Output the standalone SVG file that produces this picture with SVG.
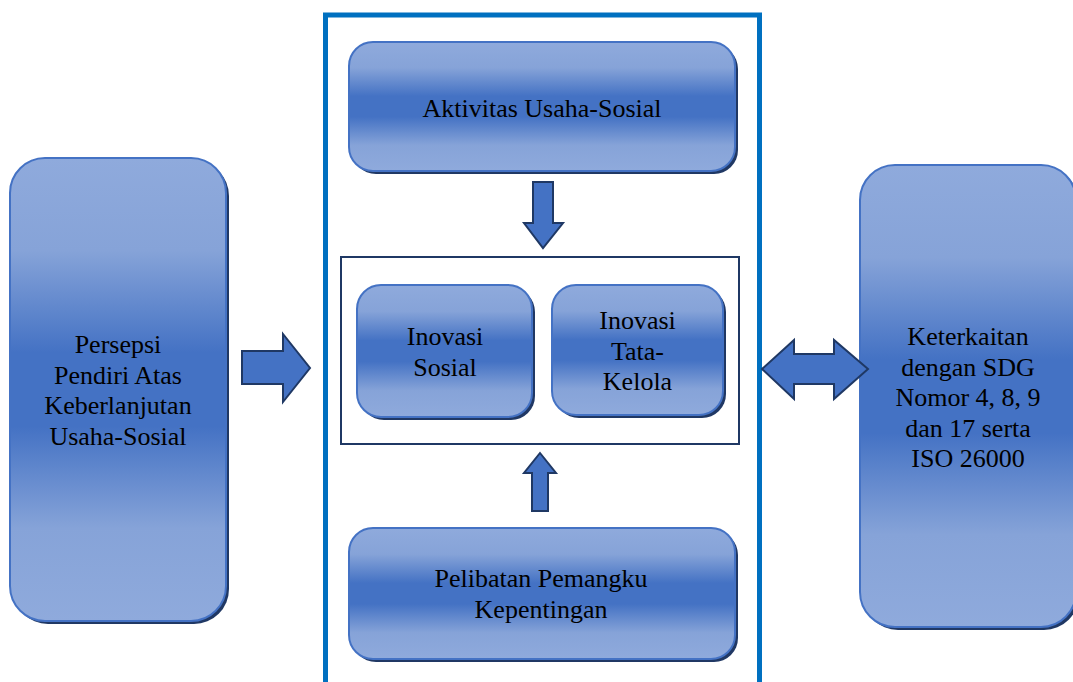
<svg xmlns="http://www.w3.org/2000/svg" width="1073" height="682" viewBox="0 0 1073 682">
<defs>
<linearGradient id="g" x1="0" y1="0" x2="0" y2="1">
<stop offset="0" stop-color="#8FAADC"/>
<stop offset="0.2" stop-color="#86A3D8"/>
<stop offset="0.42" stop-color="#4472C4"/>
<stop offset="0.58" stop-color="#4472C4"/>
<stop offset="0.8" stop-color="#86A3D8"/>
<stop offset="1" stop-color="#8FAADC"/>
</linearGradient>
<style>
.box{fill:url(#g);stroke:#4472C4;stroke-width:2}
.sh{fill:#203864}
.t{font-family:"Liberation Serif","Times New Roman",serif;font-size:26px;fill:#000;text-anchor:middle}
.arr{fill:#4472C4;stroke:#1F3864;stroke-width:2;stroke-linejoin:miter}
</style>
</defs>
<rect width="1073" height="682" fill="#fff"/>
<g id="frame">
<rect x="325.5" y="15" width="434" height="700" fill="none" stroke="#0070C0" stroke-width="5"/>
<rect x="341" y="257" width="398" height="187" fill="none" stroke="#1F3864" stroke-width="2"/>
</g>
<g id="node-persepsi">
<rect class="sh" x="13" y="161" width="216" height="463" rx="35"/>
<rect class="box" x="10" y="158" width="216" height="463" rx="35"/>
<text class="t" x="118" y="353">Persepsi</text>
<text class="t" x="118" y="383.5">Pendiri Atas</text>
<text class="t" x="118" y="414">Keberlanjutan</text>
<text class="t" x="118" y="444.5">Usaha-Sosial</text>
</g>
<g id="node-aktivitas">
<rect class="sh" x="352" y="45" width="386" height="129" rx="24"/>
<rect class="box" x="349" y="42" width="386" height="129" rx="24"/>
<text class="t" x="542" y="117">Aktivitas Usaha-Sosial</text>
</g>
<g id="node-inovasi-sosial">
<rect class="sh" x="360" y="288" width="175" height="132" rx="24"/>
<rect class="box" x="357" y="285" width="175" height="132" rx="24"/>
<text class="t" x="445" y="345">Inovasi</text>
<text class="t" x="445" y="376">Sosial</text>
</g>
<g id="node-inovasi-tata">
<rect class="sh" x="555" y="288" width="171" height="130" rx="24"/>
<rect class="box" x="552" y="285" width="171" height="130" rx="24"/>
<text class="t" x="637.5" y="329">Inovasi</text>
<text class="t" x="637.5" y="360">Tata-</text>
<text class="t" x="637.5" y="390">Kelola</text>
</g>
<g id="node-pelibatan">
<rect class="sh" x="352" y="531" width="386" height="131" rx="24"/>
<rect class="box" x="349" y="528" width="386" height="131" rx="24"/>
<text class="t" x="541" y="587">Pelibatan Pemangku</text>
<text class="t" x="541" y="618">Kepentingan</text>
</g>
<g id="node-keterkaitan">
<rect class="sh" x="863" y="168" width="216" height="462" rx="35"/>
<rect class="box" x="860" y="165" width="216" height="462" rx="35"/>
<text class="t" x="968" y="345">Keterkaitan</text>
<text class="t" x="968" y="375.5">dengan SDG</text>
<text class="t" x="968" y="406">Nomor 4, 8, 9</text>
<text class="t" x="968" y="436.5">dan 17 serta</text>
<text class="t" x="968" y="467">ISO 26000</text>
</g>
<g id="connectors">
<polygon class="arr" points="242,351 283,351 283,334 310,368 283,402 283,384 242,384"/>
<polygon class="arr" points="533,182 553,182 553,223 563,223 543,248 524,223 533,223"/>
<polygon class="arr" points="540,453 556,473 548,473 548,511 532,511 532,473 524,473"/>
<polygon class="arr" points="762,369 794,340 794,354 834,354 834,340 868,369 834,399 834,384 794,384 794,399"/>
</g>
</svg>
